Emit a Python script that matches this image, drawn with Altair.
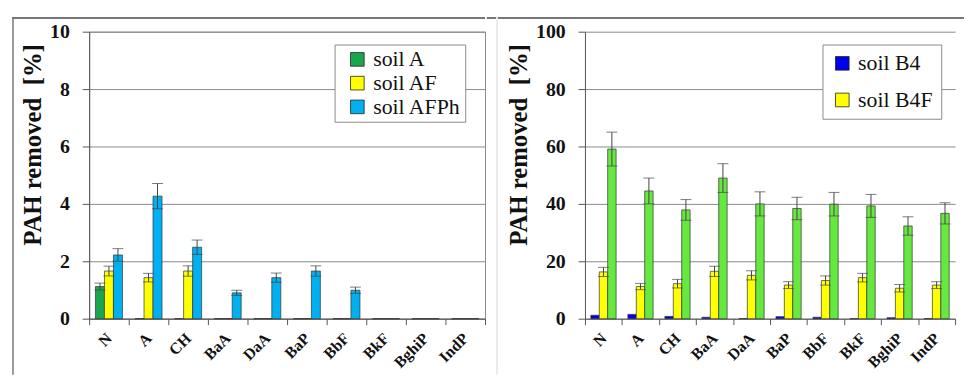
import altair as alt
import pandas as pd

categories = ["N", "A", "CH", "BaA", "DaA", "BaP", "BbF", "BkF", "BghiP", "IndP"]

# left panel
left_series = ["soil A", "soil AF", "soil AFPh"]
soil_A = [1.12, 0, 0, 0, 0, 0, 0, 0, 0, 0]
soil_A_err = [0.12, 0, 0, 0, 0, 0, 0, 0, 0, 0]
soil_AF = [1.66, 1.43, 1.66, 0, 0, 0, 0, 0, 0, 0]
soil_AF_err = [0.17, 0.15, 0.18, 0, 0, 0, 0, 0, 0, 0]
soil_AFPh = [2.22, 4.27, 2.49, 0.9, 1.43, 1.66, 0.99, 0, 0, 0]
soil_AFPh_err = [0.22, 0.44, 0.25, 0.09, 0.16, 0.18, 0.11, 0, 0, 0]
left_colors = ["#1aa64f", "#ffff00", "#00b0f0"]

# right panel
right_series = ["soil B4", "soil B4F", "soil B4FPh"]
soil_B4 = [1.2, 1.5, 0.8, 0.5, 0, 0.7, 0.5, 0, 0.35, 0]
soil_B4_err = [0, 0, 0, 0, 0, 0, 0, 0, 0, 0]
soil_B4F = [16.3, 11.2, 12.2, 16.5, 15.1, 11.7, 13.3, 14.3, 10.6, 11.7]
soil_B4F_err = [1.6, 1.1, 1.5, 1.8, 1.6, 1.2, 1.6, 1.5, 1.3, 1.2]
soil_B4FPh = [59.1, 44.5, 37.9, 49.0, 40.0, 38.4, 39.9, 39.3, 32.3, 36.7]
soil_B4FPh_err = [5.9, 4.5, 3.6, 5.0, 4.2, 3.9, 4.1, 4.0, 3.2, 3.7]
right_colors = ["#0000ee", "#ffff00", "#66e840"]

SERIF = "'Liberation Serif', 'DejaVu Serif', serif"
TITLE = "PAH removed\u00a0 [%]"
H = 290


def build_df(series, values, errs):
    rows = []
    for s, vals, es in zip(series, values, errs):
        for c, v, e in zip(categories, vals, es):
            rows.append({"cat": c, "series": s, "value": v, "err": e,
                         "lo": v - e, "hi": v + e})
    return pd.DataFrame(rows)


def frame_line(df, x, x2, y, y2, color):
    return alt.Chart(df).mark_rule(color=color, strokeWidth=1).encode(
        x=alt.value(x), x2=alt.value(x2), y=alt.value(y), y2=alt.value(y2))


def panel(df, series, colors, legend_vals, ymax, ystep, width, lx, row_pad,
          leg_pad, sym_off, frames, view_stroke):
    x = alt.X("cat:N", sort=categories,
              scale=alt.Scale(paddingInner=0, paddingOuter=0),
              axis=alt.Axis(title=None, labelAngle=-45, tickBand="extent",
                            labelFont=SERIF, labelFontSize=16, labelColor="#111",
                            labelFontWeight="bold",
                            labelAlign="right", labelBaseline="middle",
                            tickSize=6, tickColor="#555", domainColor="#555",
                            labelPadding=11, grid=False))
    xo = alt.XOffset("series:N", sort=series,
                     scale=alt.Scale(domain=series, paddingOuter=0.7, paddingInner=0))

    def yenc(field):
        return alt.Y(field, type="quantitative",
                     scale=alt.Scale(domain=[0, ymax], nice=False, zero=True),
                     axis=alt.Axis(values=list(range(0, ymax + 1, ystep)),
                                   title=TITLE, titleFont=SERIF, titleFontSize=25,
                                   titleFontWeight="bold", titleColor="#111",
                                   titlePadding=4, titleY=114, titleAlign="center",
                                   labelFont=SERIF, labelFontSize=20,
                                   labelFontWeight="bold", labelColor="#111",
                                   labelPadding=13, tickSize=7, tickColor="#555",
                                   domainColor="#555", grid=True,
                                   gridColor="#8a8a8a", gridWidth=1))

    color = alt.Color("series:N", sort=series,
                      scale=alt.Scale(domain=series, range=colors),
                      legend=alt.Legend(values=legend_vals, orient="none",
                                        legendX=lx, legendY=13, title=None,
                                        labelFont=SERIF, labelFontSize=22,
                                        labelColor="#111", labelLimit=300,
                                        labelOffset=5,
                                        symbolType="square", symbolSize=190,
                                        symbolOffset=sym_off,
                                        symbolStrokeColor="#222",
                                        symbolStrokeWidth=0.8,
                                        rowPadding=row_pad, padding=leg_pad,
                                        strokeColor="#8a8a8a", fillColor="white"))

    bars = alt.Chart(df).mark_bar(stroke="#333", strokeWidth=0.7).encode(
        x=x, xOffset=xo, y=yenc("value"), color=color)
    edf = df[df["err"] > 0]
    rules = alt.Chart(edf).mark_rule(color="#444", strokeWidth=1).encode(
        x=x, xOffset=xo, y=yenc("lo"), y2="hi:Q")
    cap_hi = alt.Chart(edf).mark_tick(color="#444", thickness=1, size=11).encode(
        x=x, xOffset=xo, y=yenc("hi"))
    cap_lo = alt.Chart(edf).mark_tick(color="#444", thickness=1, size=11).encode(
        x=x, xOffset=xo, y=yenc("lo"))
    lines = [frame_line(df, *f) for f in frames]
    return alt.layer(*lines, bars, rules, cap_hi, cap_lo).properties(
        width=width, height=H, view=alt.ViewBackground(stroke=view_stroke, strokeWidth=1))


left_df = build_df(left_series, [soil_A, soil_AF, soil_AFPh],
                   [soil_A_err, soil_AF_err, soil_AFPh_err])
right_df = build_df(right_series, [soil_B4, soil_B4F, soil_B4FPh],
                    [soil_B4_err, soil_B4F_err, soil_B4FPh_err])

# decorative figure frame lines (pixel positions relative to each plot area)
left_frames = [(-77, -77, -14, 346, "#9a9a9a"), (-77, 400, -14, -14, "#777777")]
right_frames = [(-99, 383, -14, -14, "#777777"), (-89, -89, -14, 346, "#ececec")]

left = panel(left_df, left_series, left_colors, left_series, 10, 2, 400, 248, 2,
             4, 8, left_frames, "#8a8a8a")
right = panel(right_df, right_series, right_colors, ["soil B4", "soil B4F"],
              100, 20, 374, 240, 15, 8, 1, right_frames, "transparent")

chart = alt.hconcat(left, right, spacing=0).resolve_scale(
    color="independent", y="independent", x="independent", xOffset="independent"
).properties(
    padding={"left": 4, "top": 7, "right": 0, "bottom": 0},
    background="white",
).configure_view(stroke=None)

chart.save("out.html", embed_options={"renderer": "svg", "actions": False})
